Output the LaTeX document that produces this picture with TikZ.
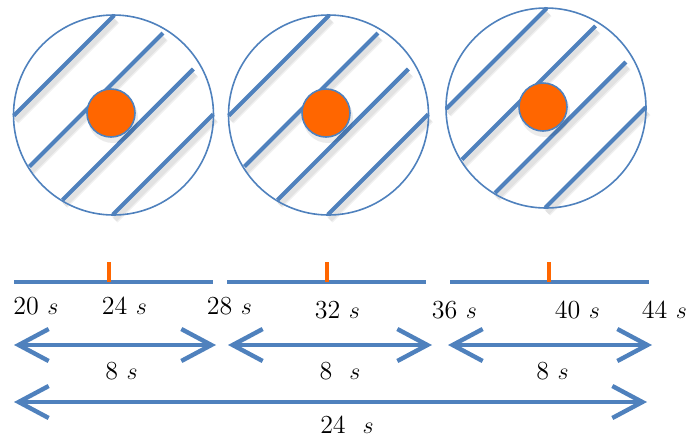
\documentclass[tikz,border=0pt]{standalone}
\usepackage{tikz}
\usetikzlibrary{arrows.meta,positioning,calc}
\definecolor{lineblue}{HTML}{4F81BD}
\definecolor{dotorange}{HTML}{FF6600}

\begin{document}
\begin{tikzpicture}[
          x=0.5pt, y=-0.5pt,
          font=\fontsize{13}{15}\selectfont,
          disk/.style={draw=lineblue, line width=0.8pt},
          hatch/.style={draw=lineblue, line width=2.1pt},
          hshadow/.style={draw=black, opacity=0.06, line width=4pt},
          spot/.style={circle, draw=lineblue, fill=dotorange, line width=0.8pt,
              minimum size=24pt, inner sep=0pt},
          seg/.style={draw=lineblue, line width=2.2pt},
          tick/.style={draw=dotorange, line width=2pt},
          span/.style={draw=lineblue, line width=2.2pt,
              {Straight Barb[length=15pt, width=16pt, line width=2.2pt]}-{Straight Barb[length=15pt, width=16pt, line width=2.2pt]}},
          lbl/.style={inner sep=0pt, anchor=base}
      ]
      \useasboundingbox (0,0) rectangle (695,441);
      % three circles with hatching and a dot
      \foreach \cx/\cy/\dx/\dy/\name in {113.5/115/-2.5/-2/a, 328.5/115/-2.5/-2/b, 546/108/-3/-1/c}{
        \begin{scope}[shift={(\cx,\cy)}]
          \foreach \sx/\sy/\ex/\ey in {-99.7/0.7/0.7/-99.7, -84.1/51.6/49.5/-82,
                                        -50.9/84.9/79.9/-46, -0.7/99.7/99.7/-0.7}{
            \draw[hshadow] (\sx+2,\sy+5) -- (\ex+2,\ey+5);
            \draw[hshadow, line width=2.5pt] (\sx+2,\sy+5) -- (\ex+2,\ey+5);
            \draw[hatch] (\sx,\sy) -- (\ex,\ey);
          }
          \draw[disk] (0,0) circle (50pt);
          \fill[black, opacity=0.08] (\dx+2,\dy+5) circle (12.5pt);
          \node[spot] (dot-\name) at (\dx,\dy) {};
        \end{scope}
      }
      % time axis
      \coordinate (t20) at (14,282);   \coordinate (t28) at (213,282);
      \coordinate (t28b) at (227,282); \coordinate (t36) at (426,282);
      \coordinate (t36b) at (450,282); \coordinate (t44) at (649,282);
      \draw[seg] (t20) -- (t28);
      \draw[seg] (t28b) -- (t36);
      \draw[seg] (t36b) -- (t44);
      \foreach \x/\name in {109/24, 327/32, 549/40}{
        \coordinate (k\name) at (\x,282);
        \draw[tick] (k\name) -- ++(0,-20);
      }
      \node[lbl] (l20) at (36,314)    {20 $s$};
      \node[lbl] (l24) at (124.5,314) {24 $s$};
      \node[lbl] (l28) at (229.5,314) {28 $s$};
      \node[lbl] (l32) at (337.5,318) {32 $s$};
      \node[lbl] (l36) at (454.5,318) {36 $s$};
      \node[lbl] (l40) at (577.5,318) {40 $s$};
      \node[lbl] (l44) at (664.5,318) {44 $s$};
      % durations
      \coordinate (a1) at (14,345);  \coordinate (a2) at (216,345);
      \coordinate (b1) at (228,345); \coordinate (b2) at (432,345);
      \coordinate (c1) at (448,345); \coordinate (c2) at (652,345);
      \coordinate (d1) at (14,402);  \coordinate (d2) at (647,402);
      \draw[span] (a1) -- (a2);
      \draw[span] (b1) -- (b2);
      \draw[span] (c1) -- (c2);
      \draw[span] (d1) -- (d2);
      \node[lbl] (w1) at (121.5,379) {8 $s$};
      \node[lbl] (w2) at (340,379)   {8~~$s$};
      \node[lbl] (w3) at (552.5,379) {8 $s$};
      \node[lbl] (w4) at (347,433)   {24~~$s$};
      \end{tikzpicture}
\end{document}
